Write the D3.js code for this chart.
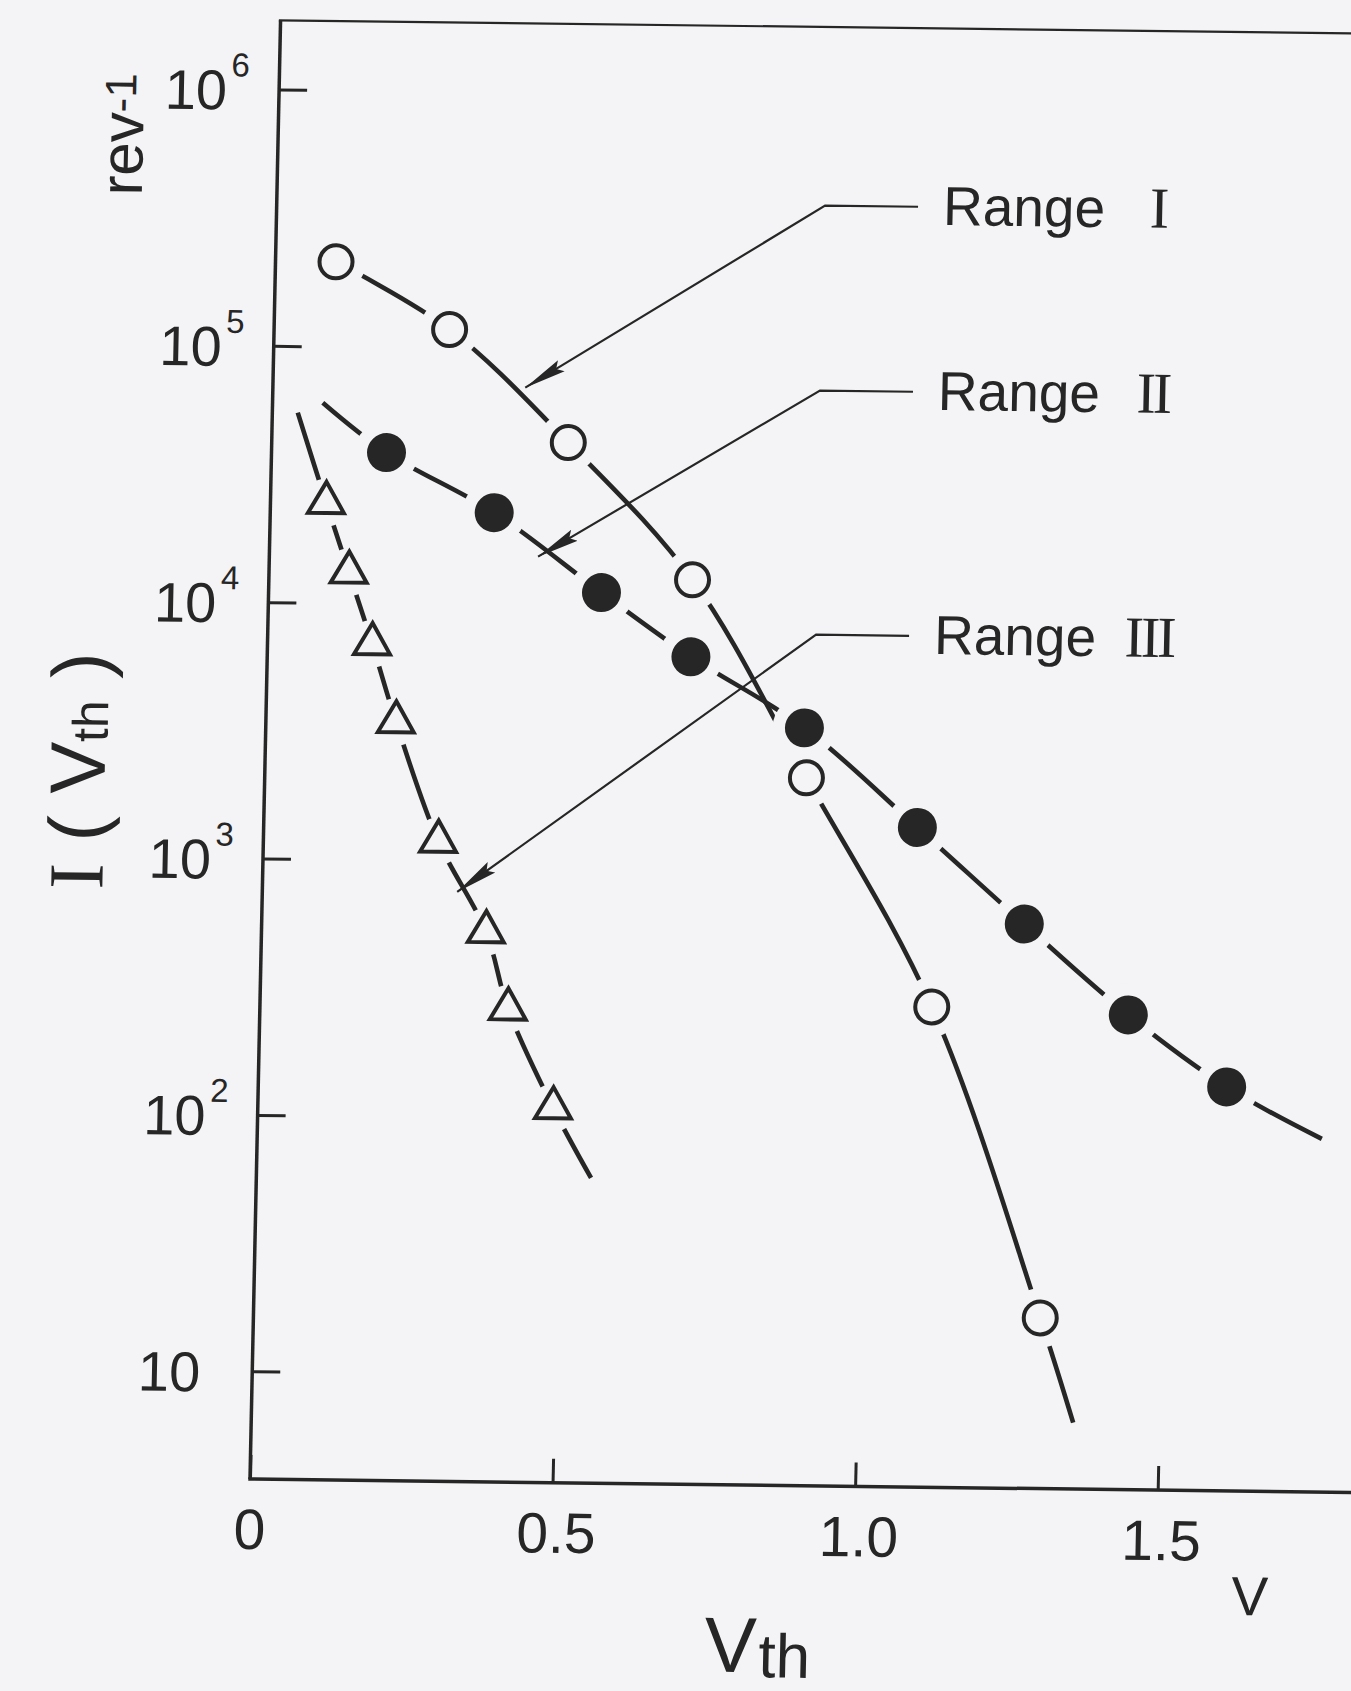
<!DOCTYPE html>
<html>
<head>
<meta charset="utf-8">
<script src="https://cdn.jsdelivr.net/npm/d3@7"></script>
<style>
  html, body { margin: 0; padding: 0; background: #f4f4f6; }
  svg { display: block; }
  text { font-family: "Liberation Sans", Arial, sans-serif; fill: #262626; }
</style>
</head>
<body>
<svg id="chart" width="1351" height="1691"></svg>
<script>
// Count rate I(Vth) against threshold voltage Vth for the three ranges
const rangeI_V   = [0.10, 0.29, 0.49, 0.70, 0.895, 1.11, 1.30];
const rangeI_I   = [2.14e5, 1.18e5, 4.33e4, 1.28e4, 2.19e3, 284, 17.6];

const rangeII_V  = [0.19, 0.37, 0.55, 0.70, 0.89, 1.08, 1.26, 1.435, 1.60];
const rangeII_I  = [3.88e4, 2.29e4, 1.13e4, 6.41e3, 3.43e3, 1.42e3, 604, 270, 143];

const rangeIII_V = [0.092, 0.132, 0.173, 0.215, 0.289, 0.371, 0.41, 0.488];
const rangeIII_I = [2.46e4, 1.32e4, 6.96e3, 3.46e3, 1.19e3, 531, 266, 110];

// Ends of the drawn trend lines, which run a little past the measured points
const trendI_end     = [1.358, 6.9];
const trendII_start  = [0.083, 6.03e4];
const trendII_end    = [1.759, 90.6];
const trendIII_start = [0.042, 5.5e4];
const trendIII_end   = [0.553, 58.9];

// Axes
const xTicks      = [0, 0.5, 1.0, 1.5];
const xTickLabels = ["0", "0.5", "1.0", "1.5"];
const yTickExps   = [1, 2, 3, 4, 5, 6];

// Callouts: where each arrow points and where its leader bends
const calloutNumerals = ["I", "II", "III"];
const calloutTipV     = [0.417, 0.444, 0.322];
const calloutTipI     = [7.06e4, 1.55e4, 757];
const calloutElbowV   = [0.906, 0.904, 0.906];
const calloutElbowI   = [3.74e5, 7.1e4, 7.93e3];

const bg = "#f4f4f6", ink = "#262626";

const svg = d3.select("#chart");
svg.append("rect").attr("width", 1351).attr("height", 1691).attr("fill", bg);

// Plot frame origin; the sheet is slightly skewed, so the plot group carries a small affine tilt
const Ox = 250, Oy = 1479, Ytop = 20;
const alpha = 0.7 * Math.PI / 180, beta = 1.2 * Math.PI / 180;
const ma = Math.cos(alpha), mb = Math.sin(alpha), mc = -Math.sin(beta), md = Math.cos(beta);
const me = Ox - ma * Ox - mc * Oy, mf = Oy - mb * Ox - md * Oy;

const defs = svg.append("defs");
defs.append("marker")
  .attr("id", "arrowhead")
  .attr("markerUnits", "userSpaceOnUse")
  .attr("viewBox", "0 -8 42 16")
  .attr("refX", 42).attr("refY", 0)
  .attr("markerWidth", 42).attr("markerHeight", 16)
  .attr("orient", "auto")
  .append("path")
  .attr("d", "M0,-6.5L42,0L0,6.5L6,0Z")
  .attr("fill", ink);

const plot = svg.append("g")
  .attr("transform", `matrix(${ma},${mb},${mc},${md},${me},${mf})`);

const x = d3.scaleLinear().domain([0, 1.816]).range([Ox, 1349]);
const y = d3.scaleLog().domain([3.8, 1.86e6]).range([Oy, Ytop]);

// Frame lines
plot.append("line").attr("x1", Ox).attr("y1", Oy).attr("x2", Ox).attr("y2", Ytop)
  .attr("stroke", ink).attr("stroke-width", 3.5);
plot.append("line").attr("x1", Ox - 1.7).attr("y1", Oy).attr("x2", 1370).attr("y2", Oy)
  .attr("stroke", ink).attr("stroke-width", 3.5);
plot.append("line").attr("x1", Ox - 1.7).attr("y1", Ytop).attr("x2", 1370).attr("y2", Ytop)
  .attr("stroke", ink).attr("stroke-width", 2.2);

// X axis: ticks point inward
const gx = plot.append("g").attr("transform", `translate(0,${Oy})`)
  .call(d3.axisBottom(x).tickValues(xTicks).tickSizeInner(-24).tickSizeOuter(0)
    .tickFormat((d, i) => xTickLabels[i]));
gx.select(".domain").remove();
gx.selectAll(".tick line").attr("stroke", ink).attr("stroke-width", 3);
gx.selectAll(".tick text")
  .attr("y", 70).attr("dy", 0)
  .attr("dx", d => d === 0 ? 0 : 4)
  .attr("font-size", 57).attr("fill", ink);

// Y axis: logarithmic, ticks inward, labels as powers of ten
const gy = plot.append("g").attr("transform", `translate(${Ox},0)`)
  .call(d3.axisLeft(y).tickValues(yTickExps.map(k => Math.pow(10, k)))
    .tickSizeInner(-28).tickSizeOuter(0).tickFormat(() => ""));
gy.select(".domain").remove();
gy.selectAll(".tick line").attr("stroke", ink).attr("stroke-width", 3);
gy.selectAll(".tick text").remove();
gy.selectAll(".tick").each(function(d, i) {
  const t = d3.select(this);
  const k = yTickExps[i];
  t.append("text").attr("x", -52).attr("y", 0).attr("dy", "0.36em")
    .attr("text-anchor", "end").attr("font-size", 56).attr("fill", ink).text("10");
  if (k > 1) {
    t.append("text").attr("x", -48).attr("y", -13)
      .attr("text-anchor", "start").attr("font-size", 33).attr("fill", ink).text(String(k));
  }
});

// Series
const series = [
  { V: rangeI_V,   I: rangeI_I,   start: null,           end: trendI_end,   kind: "open",     gap: 30 },
  { V: rangeII_V,  I: rangeII_I,  start: trendII_start,  end: trendII_end,  kind: "filled",   gap: 32 },
  { V: rangeIII_V, I: rangeIII_I, start: trendIII_start, end: trendIII_end, kind: "triangle", gap: 24 }
];
series.forEach(s => {
  s.points = s.V.map((v, i) => ({ v: v, i: s.I[i] }));
  s.trend = (s.start ? [{ v: s.start[0], i: s.start[1] }] : [])
    .concat(s.points)
    .concat(s.end ? [{ v: s.end[0], i: s.end[1] }] : []);
});

const line = d3.line().x(d => x(d.v)).y(d => y(d.i)).curve(d3.curveCatmullRom.alpha(0.5));

const linesLayer = plot.append("g");
series.forEach(s => {
  linesLayer.append("path").datum(s.trend)
    .attr("d", line)
    .attr("fill", "none").attr("stroke", ink).attr("stroke-width", 4.6)
    .attr("stroke-linecap", "butt");
});

// Lines break open around every plotted point
const gapLayer = plot.append("g");
series.forEach(s => {
  gapLayer.selectAll(null).data(s.points).enter().append("circle")
    .attr("cx", d => x(d.v)).attr("cy", d => y(d.i)).attr("r", s.gap)
    .attr("fill", bg);
});

// Markers
const markLayer = plot.append("g");
series.forEach(s => {
  const sel = markLayer.selectAll(null).data(s.points).enter();
  if (s.kind === "open") {
    sel.append("circle").attr("cx", d => x(d.v)).attr("cy", d => y(d.i)).attr("r", 16.5)
      .attr("fill", bg).attr("stroke", ink).attr("stroke-width", 4);
  } else if (s.kind === "filled") {
    sel.append("circle").attr("cx", d => x(d.v)).attr("cy", d => y(d.i)).attr("r", 19.5)
      .attr("fill", ink);
  } else {
    sel.append("path")
      .attr("d", d3.symbol(d3.symbolTriangle, 560))
      .attr("transform", d => `translate(${x(d.v)},${y(d.i)})`)
      .attr("fill", bg).attr("stroke", ink).attr("stroke-width", 4)
      .attr("stroke-linejoin", "miter");
  }
});

// Callouts with leader arrows
const callLayer = plot.append("g");
calloutNumerals.forEach((num, i) => {
  const ex = x(calloutElbowV[i]), ey = y(calloutElbowI[i]);
  const tx = x(calloutTipV[i]),   ty = y(calloutTipI[i]);
  callLayer.append("path")
    .attr("d", `M${ex + 93},${ey}H${ex}L${tx},${ty}`)
    .attr("fill", "none").attr("stroke", ink).attr("stroke-width", 2.2)
    .attr("marker-end", "url(#arrowhead)");
  callLayer.append("text").attr("x", ex + 118).attr("y", ey + 18)
    .attr("font-size", 55).attr("fill", ink).text("Range");
  callLayer.append("text").attr("x", ex + 333).attr("y", ey + 18)
    .attr("text-anchor", "middle")
    .style("font-family", '"Liberation Serif", "DejaVu Serif", serif')
    .style("letter-spacing", "-3px")
    .attr("font-size", 58).attr("fill", ink).text(num);
});

// Axis titles and units
const yTitle = plot.append("text")
  .attr("transform", "translate(90,773) rotate(-90)")
  .attr("text-anchor", "middle").attr("font-size", 78).attr("fill", ink);
yTitle.append("tspan").style("font-family", '"Liberation Serif", serif').text("I");
yTitle.append("tspan").text(" ( V");
yTitle.append("tspan").attr("font-size", 50).attr("dy", 2).text("th");
yTitle.append("tspan").attr("dy", -2).text(" )");

const yUnit = plot.append("text")
  .attr("transform", "translate(115,136) rotate(-90)")
  .attr("text-anchor", "middle").attr("font-size", 60).attr("fill", ink);
yUnit.append("tspan").text("rev");
yUnit.append("tspan").attr("font-size", 44).attr("dy", -8).text("-1");

plot.append("text").attr("x", 1252).attr("y", 1603)
  .attr("text-anchor", "middle").attr("font-size", 55).attr("fill", ink).text("V");

const xTitle = plot.append("text").attr("x", 708).attr("y", 1666)
  .attr("font-size", 78).attr("fill", ink);
xTitle.append("tspan").text("V");
xTitle.append("tspan").attr("font-size", 62).attr("dy", 5).attr("dx", 2).text("th");
</script>
</body>
</html>
